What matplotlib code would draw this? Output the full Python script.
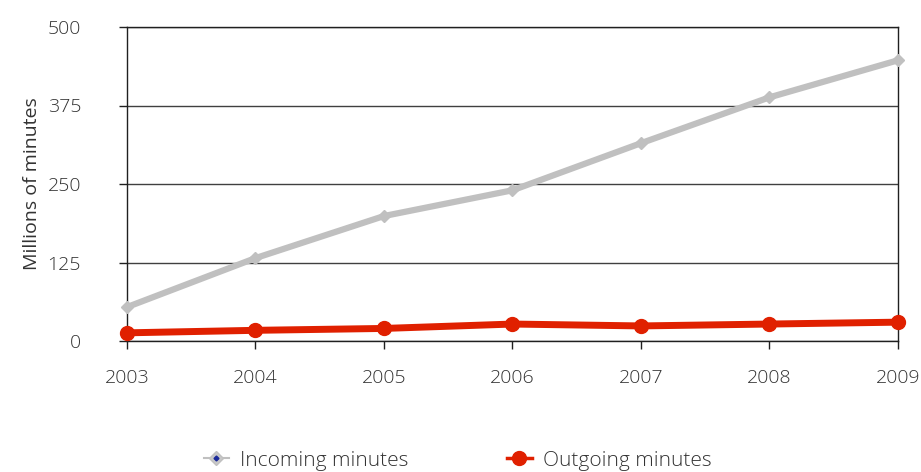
import matplotlib.pyplot as plt
from matplotlib.lines import Line2D

years = [2003, 2004, 2005, 2006, 2007, 2008, 2009]
incoming = [54, 132, 199, 240, 315, 388, 447]
outgoing = [13, 17, 20, 27, 24, 27, 30]
yticks = [0, 125, 250, 375, 500]

plt.rcParams['font.family'] = ['Open Sans', 'DejaVu Sans']
plt.rcParams['font.weight'] = 'light'

fig = plt.figure(figsize=(9.21, 4.72), dpi=100)
ax = fig.add_axes([127 / 921, 1 - 341 / 472, 771 / 921, 314 / 472])

ax.plot(years, incoming, color='#c0c0c0', lw=4.5, marker='D', ms=6,
        solid_capstyle='round', zorder=3, clip_on=False)
ax.plot(years, outgoing, color='#e02000', lw=5, marker='o', ms=10,
        zorder=4, clip_on=False)

ax.set_xlim(2003, 2009)
ax.set_ylim(0, 500)
ax.set_yticks(yticks)
ax.set_xticks(years)
ax.yaxis.grid(True, color='#404040', lw=1)
ax.set_axisbelow(True)
for s in ax.spines.values():
    s.set_color('#202020')
    s.set_linewidth(1)
ax.tick_params(axis='both', direction='out', length=6, width=1, color='#202020',
               labelsize=14, labelcolor='#333333')
ax.tick_params(axis='y', pad=27)
ax.tick_params(axis='x', pad=14)
ax.set_ylabel('Millions of minutes', fontsize=14, color='#333333', labelpad=5)

# legend handles: grey diamond with a small blue centre, red dot on a stub line
h1 = Line2D([], [], color='#c0c0c0', lw=1.5, marker='D', ms=7,
            markerfacecolor='#c8c8c8', markeredgecolor='#c0c0c0')
h1c = Line2D([], [], ls='none', marker='D', ms=2.5, color='#1a2a9a')
h2 = Line2D([], [], color='#e02000', lw=2.5, marker='o', ms=10)
fig.legend([(h1, h1c), h2], ['Incoming minutes', 'Outgoing minutes'],
           loc='center', bbox_to_anchor=(0.497, 0.024), ncol=2, frameon=False,
           fontsize=15, labelcolor='#333333', columnspacing=4.7, handlelength=1.2,
           handletextpad=0.55)

fig.savefig('out.png', dpi=100)
